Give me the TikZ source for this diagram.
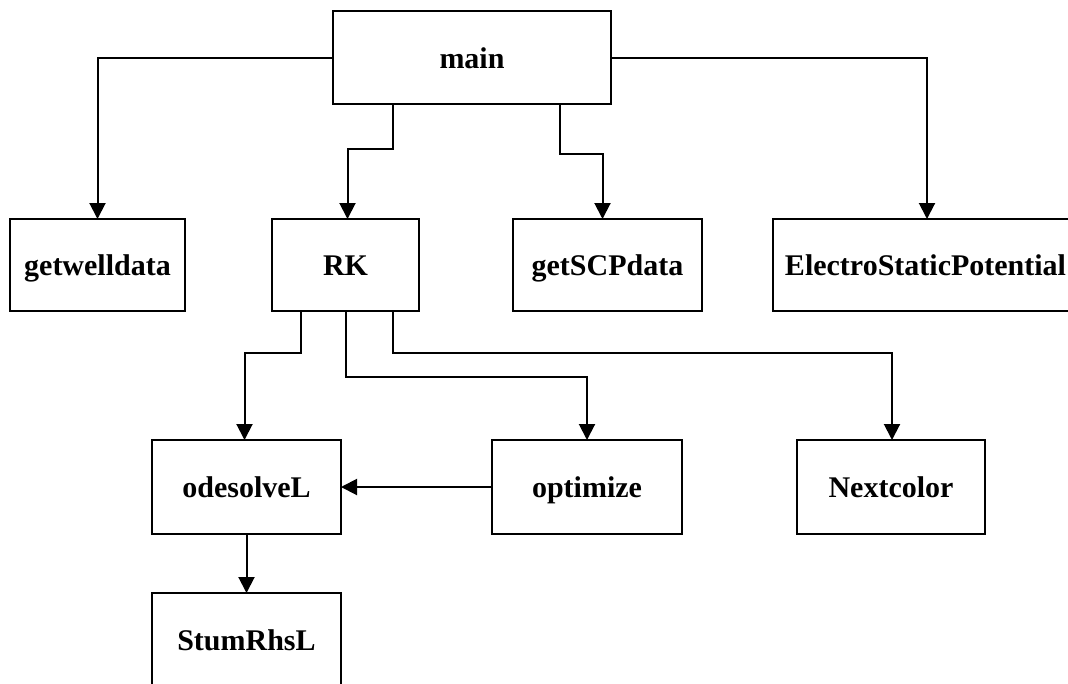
\documentclass[tikz,border=0pt]{standalone}
\usepackage{fontspec}
\setmainfont{Liberation Serif}
\usetikzlibrary{arrows.meta}
\begin{document}
\begin{tikzpicture}[x=1pt,y=-1pt,
  fnbox/.style={draw, line width=2.2pt, rectangle, inner sep=0pt, outer sep=0pt,
    font=\fontsize{30}{36}\selectfont\bfseries, text height=21pt, text depth=0pt},
  arr/.style={line width=2pt, -{Triangle[length=16pt,width=16pt]}}]
\useasboundingbox (0,0) rectangle (1068,683);
\fill[white] (0,0) rectangle (1068,683);
\clip (0,0) rectangle (1068,683);
\node[fnbox, minimum width=278pt, minimum height=93pt] (main) at (472,57.5) {main};
\node[fnbox, minimum width=175pt, minimum height=92pt] (getwelldata) at (97.5,265) {getwelldata};
\node[fnbox, minimum width=147pt, minimum height=92pt] (RK) at (345.5,265) {RK};
\node[fnbox, minimum width=189pt, minimum height=92pt] (getSCPdata) at (607.5,265) {getSCPdata};
\node[fnbox, minimum width=305pt, minimum height=92pt] (ESP) at (925.5,265) {ElectroStaticPotential};
\node[fnbox, minimum width=189pt, minimum height=94pt] (odesolveL) at (246.5,487) {odesolveL};
\node[fnbox, minimum width=190pt, minimum height=94pt] (optimize) at (587,487) {optimize};
\node[fnbox, minimum width=188pt, minimum height=94pt] (Nextcolor) at (891,487) {Nextcolor};
\node[fnbox, minimum width=189pt, minimum height=94pt] (StumRhsL) at (246.5,640) {StumRhsL};
% connectors from main
\draw[arr] (main.west) -| (getwelldata.north);
\draw[arr] (main.east) -| ([xshift=1.5pt]ESP.north);
\draw[arr] ([xshift=-79pt]main.south) -- ++(0,45) -| ([xshift=2pt]RK.north);
\draw[arr] ([xshift=88pt]main.south) -- ++(0,50) -| ([xshift=-5pt]getSCPdata.north);
% connectors from RK
\draw[arr] ([xshift=-44.5pt]RK.south) -- ++(0,42) -| ([xshift=-2pt]odesolveL.north);
\draw[arr] (RK.south) -- ++(0,66) -| (optimize.north);
\draw[arr] ([xshift=47.5pt]RK.south) -- ++(0,42) -| ([xshift=1pt]Nextcolor.north);
% others
\draw[arr] (optimize.west) -- (odesolveL.east);
\draw[arr] (odesolveL.south) -- (StumRhsL.north);
\end{tikzpicture}
\end{document}
